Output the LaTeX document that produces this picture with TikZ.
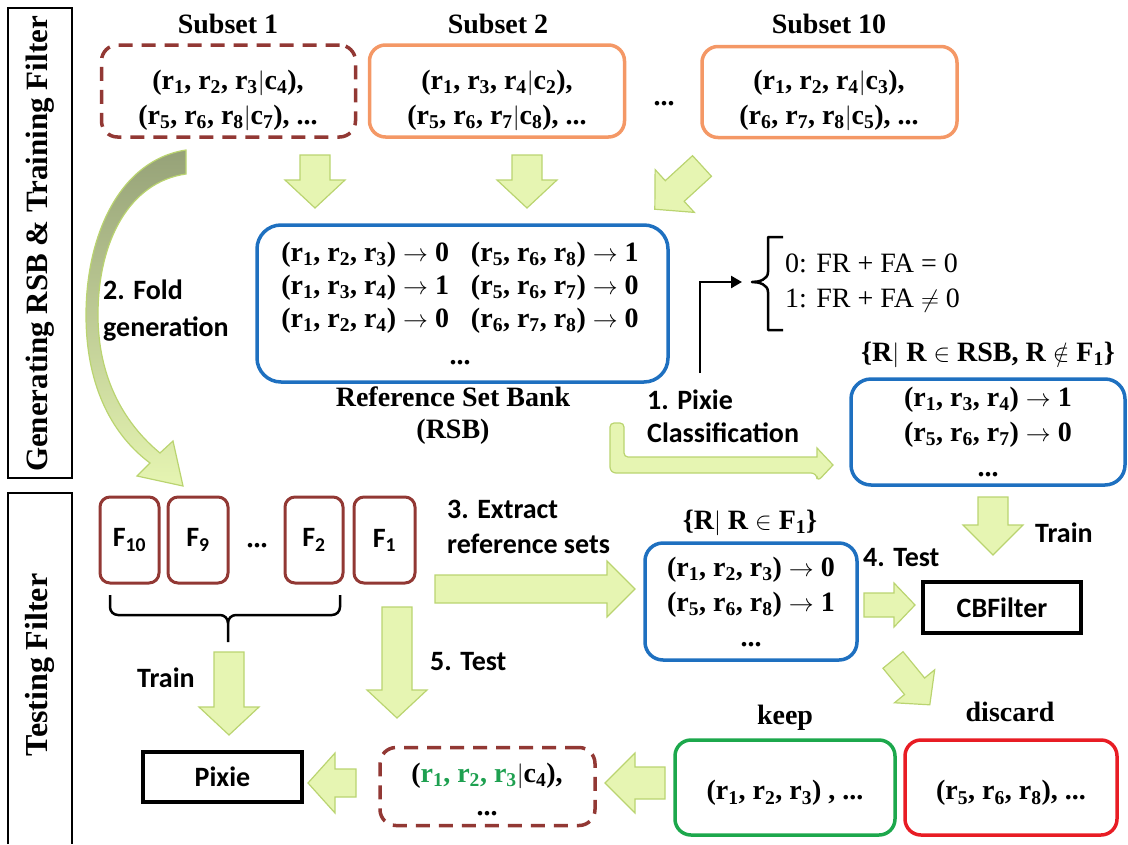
\documentclass[tikz,border=0pt]{standalone}
\usepackage{fontspec}
\setmainfont{Liberation Serif}
\newfontfamily\calib{Carlito}
\usetikzlibrary{arrows.meta}

\definecolor{boxbrown}{RGB}{146,56,52}
\definecolor{boxorange}{RGB}{244,152,102}
\definecolor{boxblue}{RGB}{30,112,192}
\definecolor{boxgreen}{RGB}{28,168,76}
\definecolor{boxred}{RGB}{232,28,36}
\definecolor{arrowfill}{RGB}{230,245,178}
\definecolor{arrowedge}{RGB}{186,212,112}
\definecolor{foldshade}{RGB}{150,162,120}
\definecolor{hitgreen}{RGB}{30,160,80}

\newcommand\sub[1]{\textsubscript{#1}}
% block arrow: tail centre, angle, length, shaft half width, head half width, head length
\newcommand\blockarrow[6]{%
  \begin{scope}[shift={(#1)},rotate=#2]
    \draw[barrow] (0,#4) -- ({#3-#6},#4) -- ({#3-#6},#5) -- (#3,0)
      -- ({#3-#6},-#5) -- ({#3-#6},-#4) -- (0,-#4) -- cycle;
  \end{scope}}

\tikzset{
  serif/.style={font=\bfseries\fontsize{28}{35}\selectfont, align=center, inner sep=0pt},
  serifreg/.style={font=\fontsize{28}{35}\selectfont, align=left, inner sep=0pt},
  sans/.style={font=\calib\bfseries\fontsize{28}{33}\selectfont, align=left, inner sep=0pt},
  rbox/.style={draw, line width=3.5pt, rounded corners=16pt, inner sep=0pt},
  dashbox/.style={rbox, draw=boxbrown, dash pattern=on 14pt off 9pt},
  fbox/.style={draw=boxbrown, line width=3pt, rounded corners=10pt, minimum width=59pt, minimum height=86pt, inner sep=0pt, font=\calib\bfseries\fontsize{28}{33}\selectfont},
  blackbox/.style={draw=black, line width=3.5pt, inner sep=0pt, font=\calib\bfseries\fontsize{28}{33}\selectfont},
  barrow/.style={fill=arrowfill, draw=arrowedge, line width=1.2pt, line join=miter},
  pen/.style={draw=black, line width=2.5pt},
}

\begin{document}
\begin{tikzpicture}[x=1pt, y=-1pt]
\useasboundingbox (0,0) rectangle (1128,844);

% stage panels on the left
\draw[line width=2pt] (8,8) rectangle (72,478);
\node[serif, rotate=90, font=\bfseries\fontsize{31}{35}\selectfont] (genlabel) at (40,244) {Generating RSB \& Training Filter};
\draw[line width=2pt] (8,844) -- (8,493) -- (72,493) -- (72,844);
\node[serif, rotate=90, font=\bfseries\fontsize{32}{35}\selectfont] (testlabel) at (40,665) {Testing Filter};

% subsets
\node[serif] (s1lab) at (228,24) {Subset 1};
\node[serif] (s2lab) at (498,24) {Subset 2};
\node[serif] (s10lab) at (829,24) {Subset 10};
\node[dashbox, minimum width=254pt, minimum height=92pt] (s1) at (228.5,91) {};
\node[rbox, draw=boxorange, minimum width=255pt, minimum height=92pt] (s2) at (497,91) {};
\node[rbox, draw=boxorange, minimum width=255pt, minimum height=91pt] (s10) at (829.5,92) {};
\node[serif] (s1t) at (228,100) {(r\sub1, r\sub2, r\sub3$|$c\sub4),\\(r\sub5, r\sub6, r\sub8$|$c\sub7), ...};
\node[serif] (s2t) at (497,100) {(r\sub1, r\sub3, r\sub4$|$c\sub2),\\(r\sub5, r\sub6, r\sub7$|$c\sub8), ...};
\node[serif] (s10t) at (829,100) {(r\sub1, r\sub2, r\sub4$|$c\sub3),\\(r\sub6, r\sub7, r\sub8$|$c\sub5), ...};
\node[serif] (topdots) at (664,104) {...};

% arrows into the reference set bank
\blockarrow{315,155}{-90}{53}{15}{30}{28}
\blockarrow{527,155}{-90}{53}{15}{30}{28}
\blockarrow{702,166}{-137.5}{64}{14}{29}{27}

% reference set bank
\node[rbox, draw=boxblue, rounded corners=24pt, minimum width=411pt, minimum height=157pt] (rsb) at (462.5,303.5) {};
\node[serif, font=\bfseries\fontsize{28}{33}\selectfont] (rsbt) at (460,306) {\begin{tabular}{@{}l@{\hspace{22pt}}l@{}}
(r\sub1, r\sub2, r\sub3) $\rightarrow$ 0 & (r\sub5, r\sub6, r\sub8) $\rightarrow$ 1\\
(r\sub1, r\sub3, r\sub4) $\rightarrow$ 1 & (r\sub5, r\sub6, r\sub7) $\rightarrow$ 0\\
(r\sub1, r\sub2, r\sub4) $\rightarrow$ 0 & (r\sub6, r\sub7, r\sub8) $\rightarrow$ 0\\[4pt]
\multicolumn{2}{c}{...}
\end{tabular}};
\node[serif, font=\bfseries\fontsize{28}{32}\selectfont] (rsbname) at (453,416) {Reference Set Bank\\(RSB)};

% fold generation curved arrow
\path[draw=arrowedge, line width=1.2pt, top color=foldshade, middle color=arrowfill, bottom color=arrowfill]
  (186,150) .. controls (120,160) and (86,235) .. (86,315)
  .. controls (86,390) and (115,437) .. (150,463)
  -- (137,476) -- (183,486) -- (173,441) -- (160,453)
  .. controls (126,425) and (98,380) .. (98,315)
  .. controls (98,240) and (130,182) .. (186,174) -- cycle;
\node[sans, font=\calib\bfseries\fontsize{28}{37}\selectfont] (foldlab) at (103,311) [anchor=west] {2. Fold\\generation};

% pixie classification of the bank
\coordinate (clsfoot) at (700,373);
\coordinate (clstip) at (742,282);
\draw[pen, -{Triangle[length=11pt,width=12pt]}] (clsfoot) |- (clstip);
\draw[pen, line join=round] (783,237) -- (768,237) -- (768,272) to[out=-90,in=0] (752,282)
  to[out=0,in=90] (768,292) -- (768,330) -- (783,330);
\node[serifreg] (cases) at (785,283) [anchor=west] {0: FR + FA = 0\\1: FR + FA $\neq$ 0};
\node[sans] (pixlab) at (647,416) [anchor=west] {1. Pixie\\Classification};
\draw[barrow, rounded corners=6pt] (610,423) -- (610,473) -- (817,473) -- (817,482)
  [sharp corners] -- (833,465) -- (817,448) -- (817,457) [rounded corners=4pt] -- (624,457) -- (624,423) -- cycle;

% reference sets not in F1
\node[serif] (notf1lab) at (988,355) {\{R$|$ R $\in$ RSB, R $\notin$ F\sub1\}};
\node[rbox, draw=boxblue, rounded corners=20pt, minimum width=274pt, minimum height=106pt] (notf1) at (988,432) {};
\node[serif] (notf1t) at (988,432) {(r\sub1, r\sub3, r\sub4) $\rightarrow$ 1\\(r\sub5, r\sub6, r\sub7) $\rightarrow$ 0\\...};

% training and testing the CBFilter
\blockarrow{993,497}{-90}{58}{15}{30}{30}
\node[sans] (trainr) at (1035,533) [anchor=west] {Train};
\node[sans] (test4) at (863,558) [anchor=west] {4. Test};
\node[blackbox, minimum width=158pt, minimum height=51pt] (cbf) at (1002,607.5) {CBFilter};
\blockarrow{864,605}{0}{51}{12}{22}{21}

% reference sets in F1
\node[serif] (inf1lab) at (750,523) {\{R$|$ R $\in$ F\sub1\}};
\node[rbox, draw=boxblue, rounded corners=18pt, minimum width=212pt, minimum height=117pt] (inf1) at (751,601.5) {};
\node[serif] (inf1t) at (751,602) {(r\sub1, r\sub2, r\sub3) $\rightarrow$ 0\\(r\sub5, r\sub6, r\sub8) $\rightarrow$ 1\\...};
\node[sans, font=\calib\bfseries\fontsize{28}{35}\selectfont] (extlab) at (447,527) [anchor=west] {3. Extract\\reference sets};
\blockarrow{435,589}{0}{200}{14}{28}{28}

% folds
\node[fbox] (f10) at (129.5,540) {F\sub{10}};
\node[fbox, minimum width=60pt] (f9) at (198,540) {F\sub9};
\node[serif] (fdots) at (257,546) {...};
\node[fbox, minimum width=58pt] (f2) at (314,540) {F\sub2};
\node[fbox, minimum width=61pt] (f1) at (384.5,540) {F\sub1};
\draw[pen, line join=round] (110,595) -- (110,607) to[out=-90,in=180] (118,615) -- (220,615)
  to[out=0,in=90] (228,623) -- (228,642);
\draw[pen, line join=round] (228,623) to[out=90,in=180] (236,615) -- (332,615)
  to[out=0,in=-90] (340,607) -- (340,595);

% training and testing Pixie
\blockarrow{229,652}{-90}{83}{15}{30}{28}
\node[sans] (trainl) at (137,678) [anchor=west] {Train};
\node[blackbox, minimum width=159pt, minimum height=50pt] (pixie) at (222.5,777) {Pixie};
\blockarrow{397,607}{-90}{111}{15}{30}{28}
\node[sans] (test5) at (430,662) [anchor=west] {5. Test};
\blockarrow{356,783}{180}{48}{14}{30}{27}

% filtered sets
\node[dashbox, minimum width=215pt, minimum height=78pt] (kept) at (487.5,786.5) {};
\node[serif, font=\bfseries\fontsize{28}{33}\selectfont] (keptt) at (487,789) {(\textcolor{hitgreen}{r\sub1, r\sub2, r\sub3}$|$c\sub4),\\...};
\blockarrow{665,783}{180}{60}{16}{30}{30}
\node[serif] (keeplab) at (785,718) {keep};
\node[serif] (disclab) at (1010,712) {discard};
\node[rbox, draw=boxgreen, minimum width=220pt, minimum height=95pt] (keep) at (785,787.5) {};
\node[rbox, draw=boxred, minimum width=212pt, minimum height=95pt] (disc) at (1011,787.5) {};
\node[serif] (keept) at (785,793) {(r\sub1, r\sub2, r\sub3) , ...};
\node[serif] (disct) at (1011,793) {(r\sub5, r\sub6, r\sub8), ...};
\blockarrow{893,660}{-50.6}{58}{13}{26}{24}
\end{tikzpicture}
\end{document}
